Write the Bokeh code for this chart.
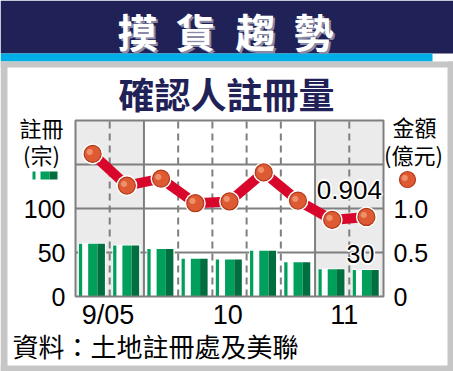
import numpy as np
from bokeh.plotting import figure
from bokeh.models import Range1d, LinearAxis, FixedTicker, ColumnDataSource
from bokeh.core.properties import value
from bokeh.embed import file_html
from bokeh.resources import INLINE

# ---------------- data ----------------
months = ["9/05", "10", "11"]
weeks_per_month = [2, 5, 2]
registrations = [60, 58, 54, 43, 42, 52, 39, 31, 30]               # 註冊 (宗)
amounts = [1.62, 1.26, 1.34, 1.06, 1.08, 1.41, 1.09, 0.87, 0.904]  # 金額 (億元)
left_ticks = [0, 50, 100]
right_ticks = [0, 0.5, 1.0]
right_tick_labels = ["0", "0.5", "1.0"]
month_label_pos = [0.95, 4.45, 7.85]

title_chars = ["摸", "貨", "趨", "勢"]
subtitle = "確認人註冊量"
source_text = "資料：土地註冊處及美聯"

# ---------------- layout constants (pixels) ----------------
W, H = 453, 371
FL, FR, FT, FB = 75, 383, 120, 296          # plot area
n = len(registrations)
YMAX, Y2MAX = 200, 2.0
colw = (FR - FL) / n
ppu = (FB - FT) / YMAX
ppu2 = (FB - FT) / Y2MAX

NAVY = "#1f2157"
CYAN = "#00aee8"
FRAME_GREY = "#c6c6c6"
GRID = "#7f7f7f"
SHADE = "#ebebeb"
GREEN = "#00a05c"
DARK_GREEN = "#006e3e"
RED = "#d9062c"
DOT = "#dd5a33"
DOT_RIM = "#b03a1a"
DOT_HI = "#f4a07c"
CJK = "Noto Sans CJK TC"
NUM = "Liberation Sans"


def X(px):
    return (px - FL) / colw


def Y(py):
    return (FB - py) / ppu


def Y2(py):
    return (FB - py) / ppu2


p = figure(width=W, height=H, x_range=Range1d(X(0), X(W)), y_range=Range1d(Y(H), Y(0)),
           output_backend="svg", toolbar_location=None, min_border=0,
           min_border_left=0, min_border_right=0, min_border_top=0, min_border_bottom=0)
p.extra_y_ranges = {"amt": Range1d(Y2(H), Y2(0))}
p.background_fill_color = "white"
p.border_fill_color = "white"
p.outline_line_color = None
p.grid.visible = False

# ---------------- page decorations ----------------
def box(l, r, t, b, color):
    p.quad(left=X(l), right=X(r), top=Y(t), bottom=Y(b), fill_color=color,
           line_color=None, level="image")


box(0, W, 0, 53, NAVY)
box(0, 432, 53, 61, CYAN)
box(0, W, 61, 67, FRAME_GREY)
box(0, 7, 61, H, FRAME_GREY)
box(447, W, 61, H, FRAME_GREY)
box(0, W, 365, H, FRAME_GREY)


def lab(text, px, py, size, color="black", font=CJK, bold=False, align="center"):
    p.text(x=[X(px)], y=[Y(py)], text=[text], text_font=value(font),
           text_font_size=f"{size}px", text_color=color, text_align=align,
           text_baseline="middle", text_font_style="bold" if bold else "normal")


# ---------------- plot-area shading & grid ----------------
edges = np.concatenate([[0], np.cumsum(weeks_per_month)])
shade_l = [edges[i] for i in range(len(months)) if i % 2 == 0]
shade_r = [edges[i + 1] for i in range(len(months)) if i % 2 == 0]
p.quad(left=shade_l, right=shade_r, bottom=0, top=YMAX, fill_color=SHADE,
       line_color=None, level="image")

grid_y = [50, 100, 150]
p.segment(x0=0, y0=grid_y, x1=n, y1=grid_y, line_color=GRID, line_width=2, level="underlay")
month_edges = set(int(e) for e in edges[1:-1])
dashed = [b for b in range(1, n) if b not in month_edges]
solid = sorted(month_edges)
p.segment(x0=dashed, y0=0, x1=dashed, y1=YMAX, line_color=GRID, line_width=2,
          line_dash="7 5", level="underlay")
p.segment(x0=solid, y0=0, x1=solid, y1=YMAX, line_color=GRID, line_width=2,
          level="underlay")

# ---------------- bars ----------------
xs = np.arange(n)
src = ColumnDataSource(dict(
    x=xs, reg=registrations, amt=amounts, xc=xs + 0.5,
    wl=xs + 0.10, wr=xs + 0.875,
    tl=xs + 0.10, tr=xs + 0.195,
    ml=xs + 0.37, mm=xs + 0.64, mr=xs + 0.86,
))
p.quad(left="wl", right="wr", bottom=0, top="reg", source=src, fill_color="white",
       line_color="white", line_width=1.5)
p.quad(left="tl", right="tr", bottom=0, top="reg", source=src, fill_color=GREEN, line_color=None)
p.quad(left="ml", right="mm", bottom=0, top="reg", source=src, fill_color=GREEN, line_color=None)
p.quad(left="mm", right="mr", bottom=0, top="reg", source=src, fill_color=DARK_GREEN, line_color=None)

# plot-area border
p.quad(left=0, right=n, bottom=0, top=YMAX, fill_color=None, line_color=GRID, line_width=2)

# ---------------- line & dots ----------------
p.line(x="xc", y="amt", source=src, y_range_name="amt", line_color=RED, line_width=10)
p.scatter(x="xc", y="amt", source=src, y_range_name="amt", size=21, fill_color="white",
          line_color=None)
p.scatter(x="xc", y="amt", source=src, y_range_name="amt", size=17, fill_color=DOT,
          line_color=DOT_RIM, line_width=1.2)
p.text(x="xc", y="amt", source=src, y_range_name="amt", text=value("●"), x_offset=-2.5,
       y_offset=-2.5, text_font=value("DejaVu Sans"), text_font_size="8px",
       text_color=DOT_HI, text_alpha=0.8, text_align="center", text_baseline="middle")


def halo_text(x, y, txt, xo, yo, size, y_range_name="default"):
    for dx, dy in [(-1.5, 0), (1.5, 0), (0, -1.5), (0, 1.5), (-1.1, -1.1), (1.1, 1.1), (-1.1, 1.1), (1.1, -1.1)]:
        p.text(x=[x], y=[y], text=[txt], y_range_name=y_range_name, x_offset=xo + dx, y_offset=yo + dy,
               text_font=value(NUM), text_font_size=f"{size}px", text_color="white",
               text_align="center", text_baseline="middle")
    p.text(x=[x], y=[y], text=[txt], y_range_name=y_range_name, x_offset=xo, y_offset=yo,
           text_font=value(NUM), text_font_size=f"{size}px", text_color="black",
           text_align="center", text_baseline="middle")


halo_text(xs[-1] + 0.5, amounts[-1], f"{amounts[-1]:.3f}", -17, -27, 26, "amt")
halo_text(xs[-1] + 0.5, registrations[-1], f"{registrations[-1]}", -6, -16, 25)

# ---------------- axes (fixed at the plot-area edges) ----------------
def style_axis(ax, size, standoff):
    ax.major_label_text_font = NUM
    ax.major_label_text_font_size = f"{size}px"
    ax.major_label_text_color = "black"
    ax.major_label_standoff = standoff
    ax.axis_line_color = None
    ax.major_tick_line_color = None
    ax.minor_tick_line_color = None
    ax.major_tick_out = 0
    ax.major_tick_in = 0


p.yaxis.ticker = FixedTicker(ticks=left_ticks)
p.yaxis.fixed_location = 0
style_axis(p.yaxis[0], 25, 10)

ax2 = LinearAxis(y_range_name="amt", ticker=FixedTicker(ticks=right_ticks),
                 major_label_overrides={t: l for t, l in zip(right_ticks, right_tick_labels)},
                 fixed_location=n)
style_axis(ax2, 25, 10)
p.add_layout(ax2, "right")

p.xaxis.ticker = FixedTicker(ticks=month_label_pos)
p.xaxis.major_label_overrides = {t: l for t, l in zip(month_label_pos, months)}
p.xaxis.fixed_location = 0
style_axis(p.xaxis[0], 27, 3)

# ---------------- legend icons ----------------
box(32, 35, 171, 179, GREEN)
box(40, 49, 171, 179, GREEN)
box(49, 57, 171, 179, DARK_GREEN)
p.scatter(x=[X(407)], y=[Y(179)], size=16, fill_color=DOT, line_color=DOT_RIM, line_width=1.2)
p.text(x=[X(407)], y=[Y(179)], text=["●"], x_offset=-2.5, y_offset=-2.5,
       text_font=value("DejaVu Sans"), text_font_size="8px", text_color=DOT_HI,
       text_alpha=0.8, text_align="center", text_baseline="middle")

# ---------------- texts ----------------
for ch, cx in zip(title_chars, [137, 195, 255, 313]):
    lab(ch, cx + 2, 32, 40, color="#8a8aa6", bold=True)
    lab(ch, cx, 30, 40, color="white", bold=True)

lab(subtitle, 226, 92, 36, color=NAVY, bold=True)

lab("註冊", 41, 126, 22)
lab("(宗)", 41, 153, 22)
lab("金額", 414, 125, 22)
lab("(億元)", 413, 153, 22)

lab(source_text, 12, 345, 26, align="left")

open("out.html", "w").write(file_html(p, INLINE))
